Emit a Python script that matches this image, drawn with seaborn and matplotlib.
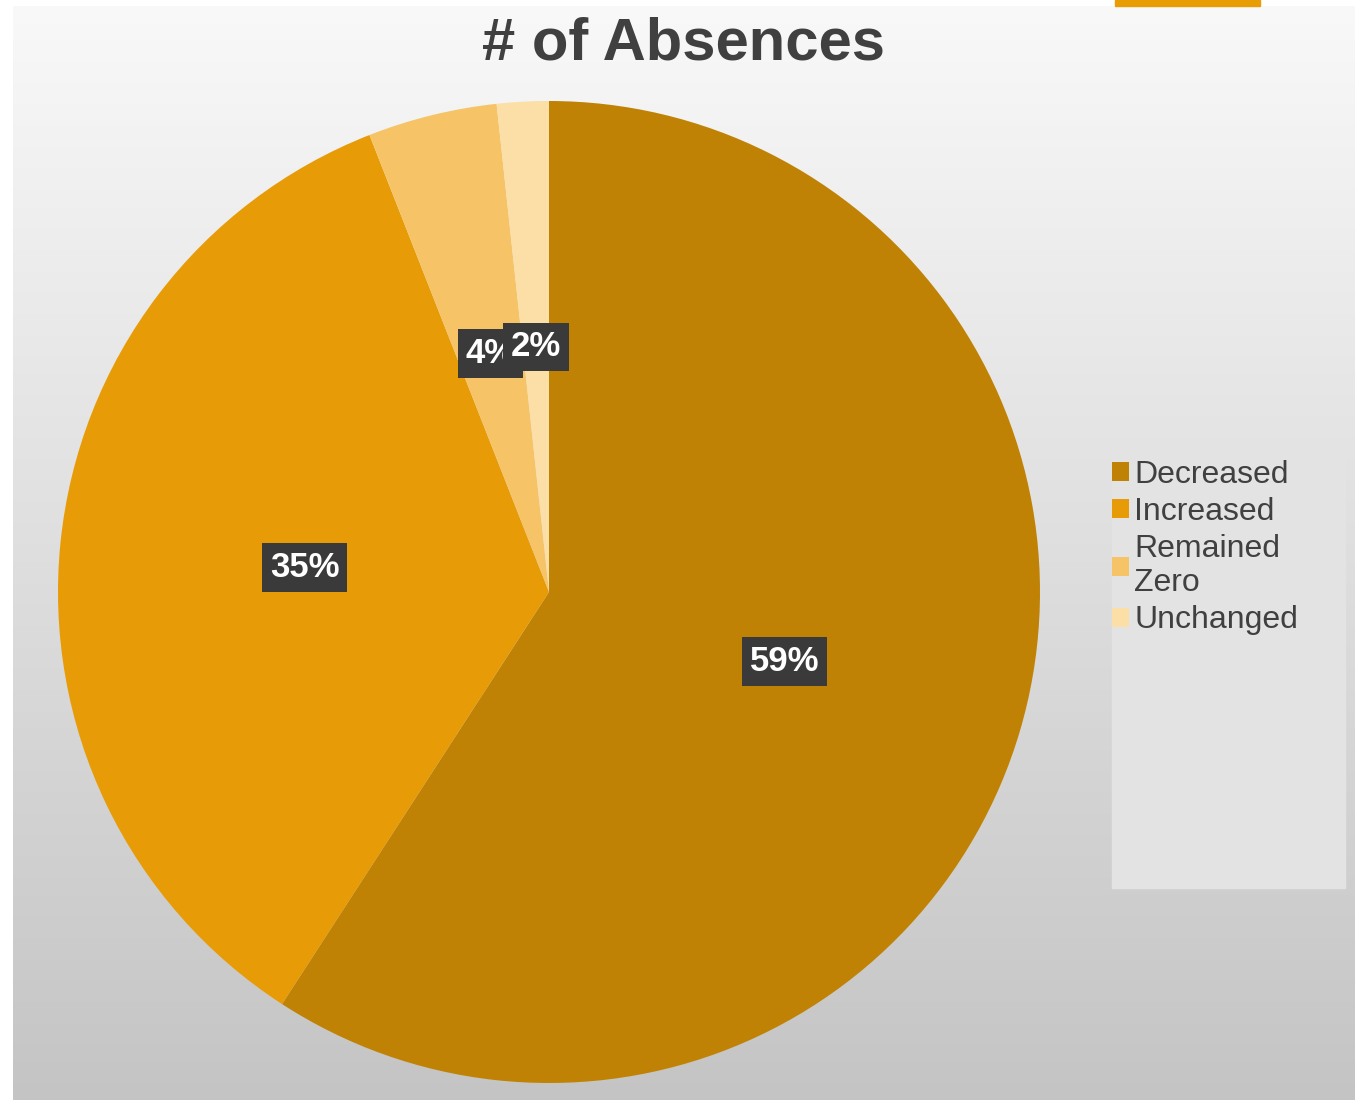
"""
Pie chart: # of Absences change categories.
"""
import matplotlib
matplotlib.use("Agg")
import matplotlib.pyplot as plt
from matplotlib.patches import Rectangle
import numpy as np
import seaborn as sns

categories = ["Decreased", "Increased", "Remained\nZero", "Unchanged"]
counts = [139, 82, 10, 4]
colors = ["#C08204", "#E79C07", "#F6C466", "#FBDFA6"]

sns.set_theme(style="white")
plt.rcParams['font.family'] = ['Liberation Sans', 'DejaVu Sans']

W, H = 1365, 1106
fig = plt.figure(figsize=(W / 100, H / 100), dpi=100)
fig.patch.set_facecolor("white")

# gradient background of the chart area
bg = fig.add_axes([13 / W, 6 / H, (1355 - 13) / W, (1100 - 6) / H])
grad = np.linspace(0.975, 0.77, 256).reshape(-1, 1)
bg.imshow(np.dstack([grad, grad, grad]), aspect="auto", extent=[0, 1, 0, 1])
bg.set_axis_off()

# small orange tab at the very top
fig.patches.append(Rectangle((1115 / W, 1 - 6 / H), 145 / W, 6 / H,
                             transform=fig.transFigure, color="#E89C05", zorder=5))

# legend background box
fig.patches.append(Rectangle((1112 / W, 1 - 888 / H), (1345 - 1112) / W, (888 - 450) / H,
                             transform=fig.transFigure, color="#E3E3E3", zorder=1))

# pie axes
ax = fig.add_axes([58 / W, 23 / H, 982 / W, 982 / H])
wedges, texts, autotexts = ax.pie(
    counts, colors=colors, startangle=90, counterclock=False,
    autopct=lambda p: f"{p:.0f}%", pctdistance=0.5,
    wedgeprops=dict(linewidth=0),
)
ax.set_xlim(-1, 1)
ax.set_ylim(-1, 1)
for t in autotexts:
    t.set_color("white")
    t.set_fontsize(25)
    t.set_fontweight("bold")
    t.set_bbox(dict(boxstyle="square,pad=0.22", fc="#3A3A3A", ec="none"))

fig.text(683 / W, 1 - 44 / H, "# of Absences", ha="center", va="center",
         fontsize=43, fontweight="bold", color="#404040")

leg = fig.legend(wedges, categories, loc="upper left",
                 bbox_to_anchor=(1099 / W, 1 - 447 / H), frameon=False,
                 fontsize=23, handlelength=0.55, handleheight=0.55,
                 handletextpad=0.15, labelspacing=0.22, borderaxespad=0)
for t in leg.get_texts():
    t.set_color("#404040")

fig.savefig("out.png", dpi=100)
